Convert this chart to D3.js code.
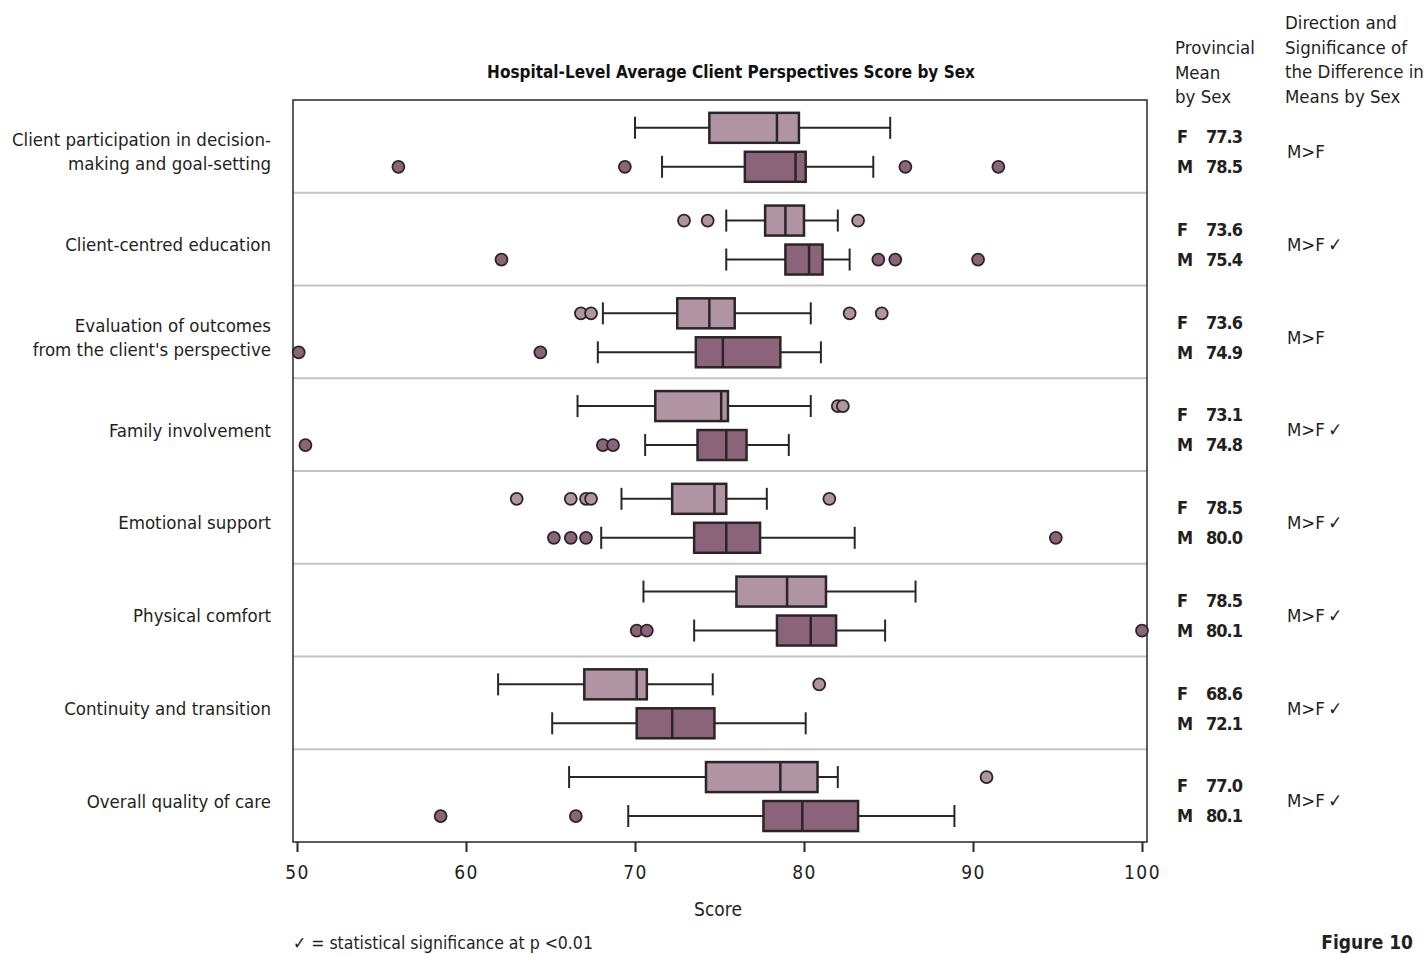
<!DOCTYPE html>
<html>
<head>
<meta charset="utf-8">
<script src="https://cdn.jsdelivr.net/npm/d3@7"></script>
<style>
  body { margin: 0; background: #fff; }
  svg text { font-family: "Liberation Sans Narrow", "DejaVu Sans Condensed", "Roboto", sans-serif; fill: #231f20; }
</style>
</head>
<body>
<div id="chart"></div>
<script>
"use strict";

// categories (top to bottom)
const categories = [
  ["Client participation in decision-", "making and goal-setting"],
  ["Client-centred education"],
  ["Evaluation of outcomes", "from the client's perspective"],
  ["Family involvement"],
  ["Emotional support"],
  ["Physical comfort"],
  ["Continuity and transition"],
  ["Overall quality of care"]
];

// [lower whisker, Q1, median, Q3, upper whisker]
const femaleBoxes = [
  [70.0, 74.4, 78.4, 79.7, 85.1],
  [75.4, 77.7, 78.9, 80.0, 82.0],
  [68.1, 72.5, 74.4, 75.9, 80.4],
  [66.6, 71.2, 75.1, 75.5, 80.4],
  [69.2, 72.2, 74.7, 75.4, 77.8],
  [70.5, 76.0, 79.0, 81.3, 86.6],
  [61.9, 67.0, 70.1, 70.7, 74.6],
  [66.1, 74.2, 78.6, 80.8, 82.0]
];
const maleBoxes = [
  [71.6, 76.5, 79.5, 80.1, 84.1],
  [75.4, 78.9, 80.3, 81.1, 82.7],
  [67.8, 73.6, 75.2, 78.6, 81.0],
  [70.6, 73.7, 75.4, 76.6, 79.1],
  [68.0, 73.5, 75.4, 77.4, 83.0],
  [73.5, 78.4, 80.4, 81.9, 84.8],
  [65.1, 70.1, 72.2, 74.7, 80.1],
  [69.6, 77.6, 79.9, 83.2, 88.9]
];

const femaleOutliers = [
  [],
  [72.9, 74.3, 83.2],
  [66.8, 67.4, 82.7, 84.6],
  [82.0, 82.3],
  [63.0, 66.2, 67.1, 67.4, 81.5],
  [],
  [80.9],
  [90.8]
];
const maleOutliers = [
  [56.0, 69.4, 86.0, 91.5],
  [62.1, 84.4, 85.4, 90.3],
  [50.1, 64.4],
  [50.5, 68.1, 68.7],
  [65.2, 66.2, 67.1, 94.9],
  [70.1, 70.7, 100.0],
  [],
  [58.5, 66.5]
];

const femaleMeans = ["77.3", "73.6", "73.6", "73.1", "78.5", "78.5", "68.6", "77.0"];
const maleMeans = ["78.5", "75.4", "74.9", "74.8", "80.0", "80.1", "72.1", "80.1"];
const significant = [false, true, false, true, true, true, true, true];

const xTicks = [50, 60, 70, 80, 90, 100];

const width = 1427, height = 954;
const frame = { left: 293, right: 1147, top: 100, bottom: 842 };

const svg = d3.select("#chart").append("svg")
  .attr("width", width)
  .attr("height", height);

const x = d3.scaleLinear().domain([50, 100]).range([297, 1142]);
const rows = d3.scaleBand()
  .domain(d3.range(categories.length))
  .range([frame.top, frame.bottom]);

const fillF = "#b094a2", fillM = "#8c6479", ink = "#2b2527";
const boxH = 30, capH = 22;

// title
svg.append("text")
  .attr("x", 731).attr("y", 78)
  .attr("text-anchor", "middle")
  .style("font-size", "17px").style("font-weight", "bold").style("fill", "#111")
  .text("Hospital-Level Average Client Perspectives Score by Sex");

// row separators
svg.selectAll(".sep").data(d3.range(1, categories.length))
  .enter().append("line")
  .attr("x1", frame.left).attr("x2", frame.right)
  .attr("y1", d => rows(d)).attr("y2", d => rows(d))
  .style("stroke", "#c4c4c4").style("stroke-width", 2);

// frame
svg.append("rect")
  .attr("x", frame.left).attr("y", frame.top)
  .attr("width", frame.right - frame.left).attr("height", frame.bottom - frame.top)
  .style("fill", "none").style("stroke", ink).style("stroke-width", 1.5);

function drawBox(g, stats, outliers, cy, fill) {
  g.append("line")
    .attr("x1", x(stats[0])).attr("x2", x(stats[4]))
    .attr("y1", cy).attr("y2", cy)
    .style("stroke", ink).style("stroke-width", 2);
  [stats[0], stats[4]].forEach(v => {
    g.append("line")
      .attr("x1", x(v)).attr("x2", x(v))
      .attr("y1", cy - capH / 2).attr("y2", cy + capH / 2)
      .style("stroke", ink).style("stroke-width", 2);
  });
  g.append("rect")
    .attr("x", x(stats[1])).attr("y", cy - boxH / 2)
    .attr("width", x(stats[3]) - x(stats[1])).attr("height", boxH)
    .style("fill", fill).style("stroke", ink).style("stroke-width", 2.5);
  g.append("line")
    .attr("x1", x(stats[2])).attr("x2", x(stats[2]))
    .attr("y1", cy - boxH / 2).attr("y2", cy + boxH / 2)
    .style("stroke", ink).style("stroke-width", 2.5);
  g.selectAll(".out").data(outliers).enter().append("circle")
    .attr("cx", d => x(d)).attr("cy", cy).attr("r", 6)
    .style("fill", fill).style("stroke", ink).style("stroke-width", 1.8);
}

categories.forEach((lines, i) => {
  const top = rows(i), h = rows.bandwidth();
  const g = svg.append("g");
  drawBox(g, femaleBoxes[i], femaleOutliers[i], top + h * 0.3, fillF);
  drawBox(g, maleBoxes[i], maleOutliers[i], top + h * 0.72, fillM);

  // category label
  const mid = top + h / 2 + 5;
  const lbl = svg.append("text")
    .attr("text-anchor", "end")
    .style("font-size", "18.5px");
  lines.forEach((s, j) => {
    lbl.append("tspan")
      .attr("x", 271)
      .attr("y", mid + (j - (lines.length - 1) / 2) * 24 + 7)
      .text(s);
  });

  // provincial means
  [["F", femaleMeans[i], top + 36], ["M", maleMeans[i], top + 66]].forEach(([s, v, yy]) => {
    svg.append("text").attr("x", 1177).attr("y", yy + 7)
      .style("font-size", "18px").style("font-weight", "bold").text(s);
    svg.append("text").attr("x", 1206).attr("y", yy + 7)
      .style("font-size", "18px").style("font-weight", "bold")
      .style("letter-spacing", "-1px").text(v);
  });

  svg.append("text").attr("x", 1287).attr("y", top + 51 + 7)
    .style("font-size", "18.5px")
    .text(significant[i] ? "M>F\u2009\u2713" : "M>F");
});

// x axis
const axis = svg.append("g")
  .attr("transform", `translate(0,${frame.bottom})`)
  .call(d3.axisBottom(x).tickValues(xTicks).tickSize(10).tickPadding(14));
axis.select(".domain").remove();
axis.selectAll(".tick line").style("stroke", ink).style("stroke-width", 2);
axis.selectAll(".tick text")
  .style("font-size", "19px")
  .style("letter-spacing", "1.5px")
  .attr("font-family", null);

svg.append("text")
  .attr("x", 718).attr("y", 916)
  .attr("text-anchor", "middle")
  .style("font-size", "19px")
  .text("Score");

// right column headers
const headA = ["Provincial", "Mean", "by Sex"];
const headB = ["Direction and", "Significance of", "the Difference in", "Means by Sex"];
headA.forEach((s, j) => {
  svg.append("text").attr("x", 1175).attr("y", 54 + j * 24.5)
    .style("font-size", "18.5px").text(s);
});
headB.forEach((s, j) => {
  svg.append("text").attr("x", 1285).attr("y", 29 + j * 24.5)
    .style("font-size", "18.5px").text(s);
});

// footnote
svg.append("text")
  .attr("x", 293).attr("y", 949)
  .style("font-size", "17.5px")
  .text("\u2713 = statistical significance at p <0.01");

svg.append("text")
  .attr("x", 1413).attr("y", 949)
  .attr("text-anchor", "end")
  .style("font-size", "19px").style("font-weight", "bold")
  .text("Figure 10");
</script>
</body>
</html>
